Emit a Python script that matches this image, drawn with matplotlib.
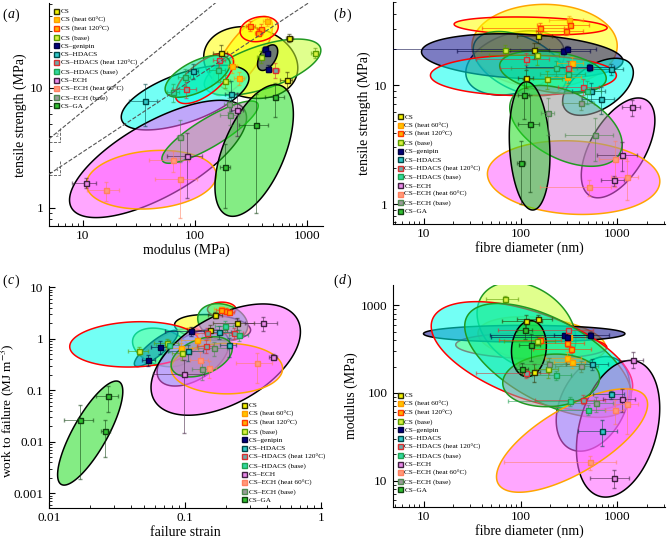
import numpy as np
import matplotlib.pyplot as plt
from matplotlib.colors import to_rgba
from matplotlib.lines import Line2D

plt.rcParams['font.family'] = ['Liberation Serif', 'DejaVu Serif']
plt.rcParams['mathtext.fontset'] = 'stix'

LABELS = ['CS', 'CS (heat 60°C)', 'CS (heat 120°C)', 'CS (base)', 'CS–genipin',
          'CS–HDACS', 'CS–HDACS (heat 120°C)', 'CS–HDACS (base)', 'CS–ECH',
          'CS–ECH (heat 60°C)', 'CS–ECH (base)', 'CS–GA']
MK_FACE = ['#f0f000', '#ffc400', '#ffb000', '#d8f040', '#00007a', '#30c8c8',
           '#70a8a8', '#30d8a0', '#e888e8', '#ff9a7a', '#9a9a9a', '#30c030']
MK_EDGE = ['#303000', '#ff9a00', '#ff3a00', '#5a9a00', '#000040', '#004848',
           '#d83030', '#20a050', '#402040', '#ff8060', '#508850', '#104010']
ELL_FILL = ['#ffff00', '#ffff00', '#ffff00', '#c8ff30', '#101090', '#00ffee',
            '#00ffee', '#00e89a', '#ff60ff', '#ff60ff', '#9a9a9a', '#20dd20']
ELL_EDGE = ['black', '#ffa500', 'red', '#229922', 'black', 'black',
            'red', '#229922', 'black', '#ffa500', '#229922', 'black']

# (a) modulus (MPa) vs tensile strength (MPa)
A_X = [[170, 700, 660], [217, 250, 437], [314, 387, 370], [188, 387, 1180],
       [420, 445, 455], [36, 97, 212], [83, 166, 525], [64, 81, 160],
       [10.6, 86, 240], [16, 64, 74], [74, 208, 204], [188, 350, 520]]
A_Y = [[19.7, 26, 11.7], [15.3, 12.1, 36], [33, 31, 29], [11.4, 18.3, 19.7],
       [21.3, 19.7, 14.5], [7.8, 13.9, 8.9], [9.8, 17, 14.2], [9.2, 12.3, 14.2],
       [1.62, 2.7, 6.5], [1.39, 2.48, 1.72], [3.9, 5.9, 7.3], [2.2, 4.9, 8.4]]
A_XERR = [[25, 50, 80], [20, 25, 30], [30, 30, 25], [20, 30, 80], [20, 20, 20],
          [10, 10, 25], [20, 20, 40], [8, 10, 25], [2.5, 30, 30], [5, 25, 30],
          [5, 40, 20], [20, 100, 100]]
A_YERR = [[3, 2, 2], [2, 1.5, 3], [3, 3, 2], [1.5, 2, 2], [1, 1, 1], [3, 2, 2.5],
          [1.5, 2, 2], [1.5, 2, 3], [0.15, 1.5, 2.5], [0.25, 0.5, 0.9],
          [1.5, 1, 1], [1.2, 4, 2.7]]
# ellipse: centre x, centre y, half-width (decades), half-height (decades), tilt
A_ELL = [(316, 16.3, 0.42, 0.30, -0.15), (265, 18.5, 0.27, 0.33, 0.75),
         (376, 31, 0.17, 0.105, 0.2), (403, 14.9, 0.52, 0.235, 0.6),
         (447, 17.9, 0.09, 0.107, 0.5), (82, 8.3, 0.57, 0.27, 0.6),
         (122, 12, 0.26, 0.21, 0.65), (106, 12.5, 0.29, 0.175, 0.6),
         (47, 2.55, 0.79, 0.49, 0.7), (41, 1.71, 0.58, 0.245, 0.15),
         (137, 4.27, 0.43, 0.26, 0.85), (339, 3.0, 0.35, 0.55, 0.55)]

# (b) fibre diameter (nm) vs tensile strength (MPa)
B_X = [[152, 137, 113], [316, 337, 299], [160, 327, 295], [69, 147, 187],
       [272, 301, 513], [850, 680, 540], [115, 311, 442], [230, 480, 310],
       [1410, 1110, 925], [946, 1250, 509], [193, 417, 590], [108, 125, 102]]
B_Y = [[25.8, 19.6, 11.5], [35.6, 15.3, 11.8], [30.5, 32.3, 28.6], [19.7, 17.8, 11.3],
       [19.4, 20.3, 14.1], [13.6, 7.7, 8.9], [16.7, 13.9, 9.7], [13.9, 8.9, 12.5],
       [6.5, 2.6, 1.58], [2.4, 1.69, 1.38], [5.8, 7.15, 3.8], [8.2, 4.76, 2.2]]
B_XERR = [[60, 60, 20], [120, 100, 120], [120, 180, 150], [30, 100, 80],
          [250, 300, 400], [300, 250, 200], [80, 250, 200], [150, 200, 150],
          [300, 500, 250], [300, 400, 350], [30, 150, 300], [15, 30, 10]]
B_YERR = [[3, 3, 2], [3, 2, 1.5], [3, 2, 2], [2, 3, 2], [1, 1, 1], [1.5, 2, 1.5],
          [2, 2, 1.5], [2, 2, 2], [1, 0.7, 0.15], [1, 0.6, 0.2], [2, 1, 1.5],
          [3, 3.5, 1.2]]
B_ELL = [(88, 15.4, 0.51, 0.27, 0.3), (177, 21.4, 0.75, 0.35, 0.0),
         (127, 31.5, 0.79, 0.076, -0.2), (98, 15.2, 0.48, 0.27, -0.45),
         (104, 17.5, 1.04, 0.19, -0.2), (630, 9.7, 0.365, 0.24, 0.5),
         (107, 12.1, 0.96, 0.17, 0.0), (216, 12.9, 0.55, 0.18, -0.3),
         (1016, 2.97, 0.38, 0.42, 0.55), (353, 1.67, 0.89, 0.31, -0.1),
         (294, 4.55, 0.58, 0.34, -0.45), (124, 3.09, 0.21, 0.54, -0.15)]

# (c) failure strain vs work to failure (MJ m-3)
C_X = [[0.167, 0.241, 0.154], [0.185, 0.123, 0.093], [0.2, 0.185, 0.21],
       [0.046, 0.074, 0.096], [0.111, 0.066, 0.054], [0.105, 0.179, 0.21],
       [0.142, 0.145, 0.23], [0.196, 0.251, 0.076], [0.378, 0.447, 0.098],
       [0.337, 0.129, 0.15], [0.133, 0.164], [0.0169, 0.0273, 0.026]]
C_Y = [[2.9, 2.0, 1.48], [3.8, 0.94, 0.67], [3.5, 3.6, 3.3], [0.59, 0.84, 0.54],
       [1.41, 0.70, 0.395], [0.575, 1.37, 0.75], [0.74, 1.32, 1.31],
       [1.77, 1.21, 0.76], [2.0, 0.447, 0.205], [0.34, 0.395, 0.277],
       [0.257, 0.66], [0.0269, 0.0787, 0.0161]]
C_XERR = [[0.02, 0.08, 0.05], [0.02, 0.03, 0.02], [0.02, 0.015, 0.02],
          [0.008, 0.015, 0.015], [0.04, 0.01, 0.006], [0.03, 0.04, 0.03],
          [0.02, 0.03, 0.04], [0.03, 0.04, 0.015], [0.1, 0.03, 0.04],
          [0.1, 0.02, 0.02], [0.02, 0.04], [0.004, 0.005, 0.002]]
C_YERR = [[0.4, 0.5, 0.4], [0.4, 0.3, 0.15], [0.4, 0.3, 0.3], [0.1, 0.15, 0.15],
          [0.3, 0.2, 0.1], [0.2, 0.4, 0.3], [0.2, 0.3, 0.3], [0.4, 0.3, 0.2],
          [0.6, 0.05, 0.19], [0.2, 0.15, 0.1], [0.1, 0.2], [0.025, 0.04, 0.011]]
C_ELL = [(0.16, 1.66, 0.28, 0.25, -0.2), (0.0815, 0.70, 0.22, 0.36, 0.6),
         (0.187, 3.73, 0.105, 0.14, 0.0), (0.0676, 0.68, 0.215, 0.375, -0.3),
         (0.0614, 0.65, 0.16, 0.35, 0.85), (0.115, 0.43, 0.265, 0.55, 0.5),
         (0.0426, 0.78, 0.477, 0.44, 0.1), (0.19, 2.1, 0.184, 0.36, -0.2),
         (0.2, 0.395, 0.55, 1.08, 0.5), (0.204, 0.264, 0.41, 0.49, 0.0),
         (0.133, 0.447, 0.225, 0.39, 0.4), (0.0201, 0.0148, 0.24, 1.01, 0.8)]

# (d) fibre diameter (nm) vs modulus (MPa)
D_X = [[151, 115, 137], [316, 299, 342], [160, 299, 334], [69, 148, 192],
       [278, 521, 300], [859, 688, 547], [115, 309, 442], [232, 324, 493],
       [1450, 1117, 924], [952, 1268, 517], [196, 425, 607], [111, 127, 104]]
D_Y = [[705, 662, 173], [434, 252, 223], [398, 374, 316], [1190, 391, 189],
       [454, 462, 440], [96, 37, 212], [168, 517, 84], [160, 81, 64],
       [240, 86, 10.7], [64, 74, 16.2], [212, 203, 76], [517, 349, 189]]
D_XERR = [[60, 50, 20], [150, 120, 120], [100, 150, 200], [25, 80, 50],
          [230, 300, 250], [300, 300, 250], [80, 250, 300], [100, 250, 250],
          [400, 400, 400], [200, 350, 450], [100, 200, 300], [20, 30, 15]]
D_YERR = [[60, 120, 40], [50, 40, 30], [40, 40, 30], [80, 50, 40], [30, 30, 30],
          [10, 12, 30], [20, 40, 10], [20, 10, 8], [50, 25, 2.5], [20, 40, 3],
          [40, 30, 15], [100, 120, 30]]
D_ELL = [None, (166, 398, 0.66, 0.27, -0.3),
         (129, 343, 0.78, 0.145, -0.1), (115, 575, 0.51, 0.505, -0.3),
         (109, 474, 1.04, 0.095, 0.0), (560, 75, 0.38, 0.54, 0.35),
         (131, 264, 1.04, 0.62, -0.55), (192, 235, 0.86, 0.65, -0.6),
         (1016, 39, 0.43, 0.78, 0.3), (340, 28.6, 0.78, 0.59, 0.7),
         (207, 139, 0.5, 0.3, 0.1), (122, 320, 0.18, 0.32, 0.1)]


def draw_panel(ax, xs, ys, xerrs, yerrs, ells):
    t = np.linspace(0, 2 * np.pi, 300)
    for i, e in enumerate(ells):
        if e is None:
            continue
        cx, cy, ru, rv, rho = e
        u = np.log10(cx) + ru * np.cos(t)
        v = np.log10(cy) + rv * np.cos(t - np.arccos(rho))
        ax.fill(10 ** u, 10 ** v, facecolor=to_rgba(ELL_FILL[i], 0.55),
                edgecolor=ELL_EDGE[i], linewidth=1.1, zorder=2)
    for i in range(len(xs)):
        ax.errorbar(xs[i], ys[i], xerr=xerrs[i], yerr=yerrs[i], fmt='s', ms=3.6,
                    mfc=MK_FACE[i], mec=MK_EDGE[i], mew=1.0,
                    ecolor=to_rgba(MK_EDGE[i], 0.55), elinewidth=0.7,
                    capsize=1.5, capthick=0.7, zorder=3)


def style(ax, xlim, ylim, xticks, yticks, xlabel, ylabel):
    ax.set_xscale('log')
    ax.set_yscale('log')
    ax.set_xlim(*xlim)
    ax.set_ylim(*ylim)
    ax.set_xticks(xticks, [f'{v:g}' for v in xticks])
    ax.set_yticks(yticks, [f'{v:g}' for v in yticks])
    ax.spines['top'].set_visible(False)
    ax.spines['right'].set_visible(False)
    ax.tick_params(which='major', length=4, width=0.8, labelsize=9.5, direction='in')
    ax.tick_params(which='minor', length=2.2, width=0.6, direction='in')
    ax.tick_params(axis='y', pad=4)
    ax.tick_params(axis='x', pad=3)
    ax.set_xlabel(xlabel, fontsize=10, labelpad=1)
    ax.set_ylabel(ylabel, fontsize=10, labelpad=2)


def add_legend(ax, **kw):
    handles = [Line2D([], [], marker='s', linestyle='', ms=3.6, mfc=MK_FACE[i],
                      mec=MK_EDGE[i], mew=1.0) for i in range(len(LABELS))]
    ax.legend(handles, LABELS, frameon=False, fontsize=5.2, handlelength=0.6,
              handletextpad=0.3, labelspacing=0.32, borderpad=0.2, **kw)


fig = plt.figure(figsize=(6.67, 5.41), dpi=100)
ax_a = fig.add_axes([0.0735, 0.582, 0.411, 0.412])
ax_b = fig.add_axes([0.589, 0.586, 0.408, 0.41])
ax_c = fig.add_axes([0.0735, 0.061, 0.409, 0.41])
ax_d = fig.add_axes([0.589, 0.063, 0.408, 0.41])

draw_panel(ax_a, A_X, A_Y, A_XERR, A_YERR, A_ELL)
style(ax_a, (5, 1400), (0.7, 51), [10, 100, 1000], [1, 10],
      'modulus (MPa)', 'tensile strength (MPa)')
# guide lines
xl = np.array([5, 1400])
ax_a.plot(xl, 1.9 * (xl / 5) ** 0.618, ls='--', color='#555555', lw=0.8, zorder=4)
ax_a.plot(xl, 3.75 * (xl / 5) ** 0.765, ls='--', color='#555555', lw=0.8, zorder=4)
ax_a.plot([5, 6.3, 6.3], [1.86, 1.86, 2.45], ls='--', color='#555555', lw=0.6)
ax_a.plot([5, 6.3, 6.3], [3.55, 3.55, 4.6], ls='--', color='#555555', lw=0.6)
ax_a.text(5.9, 2.1, '1', fontsize=4, ha='center', va='center', color='#444444')
ax_a.text(5.9, 4.0, '2', fontsize=4, ha='center', va='center', color='#444444')
add_legend(ax_a, loc='upper left', bbox_to_anchor=(0.0, 1.0))

draw_panel(ax_b, B_X, B_Y, B_XERR, B_YERR, B_ELL)
style(ax_b, (4.8, 3100), (0.68, 50), [10, 100, 1000], [1, 10],
      'fibre diameter (nm)', 'tensile strength (MPa)')
add_legend(ax_b, loc='lower left', bbox_to_anchor=(0.0, 0.02))

draw_panel(ax_c, C_X, C_Y, C_XERR, C_YERR, C_ELL)
style(ax_c, (0.01, 1.02), (0.00052, 10.5), [0.01, 0.1, 1],
      [0.001, 0.01, 0.1, 1, 10], 'failure strain', 'work to failure (MJ m$^{-3}$)')
ax_c.yaxis.label.set_fontsize(9.5)
ax_c.yaxis.set_label_coords(-0.12, 0.44)
add_legend(ax_c, loc='lower right', bbox_to_anchor=(1.03, 0.0))

draw_panel(ax_d, D_X, D_Y, D_XERR, D_YERR, D_ELL)
style(ax_d, (4.8, 3100), (5, 1700), [10, 100, 1000], [10, 100, 1000],
      'fibre diameter (nm)', 'modulus (MPa)')
add_legend(ax_d, loc='lower left', bbox_to_anchor=(0.0, 0.04))

for x, y, s in [(0.003, 0.985, 'a'), (0.5, 0.985, 'b'), (0.003, 0.493, 'c'), (0.5, 0.493, 'd')]:
    fig.text(x, y, '(', fontsize=10, va='top')
    fig.text(x + 0.008, y, s, fontsize=10, va='top', style='italic')
    fig.text(x + 0.019, y, ')', fontsize=10, va='top')

fig.savefig('out.png', dpi=100)
